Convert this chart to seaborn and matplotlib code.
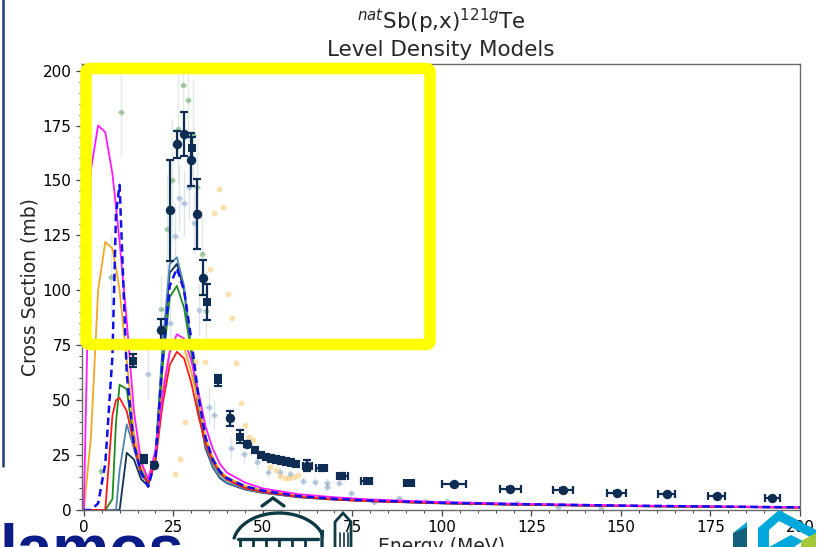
import matplotlib
matplotlib.use("Agg")
import matplotlib.pyplot as plt
import seaborn as sns
import numpy as np
import pandas as pd
from matplotlib.patches import FancyBboxPatch, Polygon
from matplotlib.lines import Line2D

# ---------------- model curves (TALYS level density models) ----------------
E_model = [0, 2, 4, 6, 8, 9, 10, 12, 14, 16, 18, 20, 22, 24, 26, 28, 30, 32, 34,
           36, 38, 40, 45, 50, 60, 70, 80, 100, 120, 150, 200]
ld_magenta = [0, 155, 175, 172, 153, 138, 122, 86, 45, 22, 14, 27, 52, 72, 80, 78, 68,
              54, 38, 28, 21, 17, 12.5, 9.8, 7.2, 5.8, 4.8, 3.6, 2.9, 2.1, 1.3]
ld_orange = [0, 33, 100, 122, 119, 110, 100, 68, 35, 20, 14, 25, 55, 72, 77, 74, 63,
             49, 33, 24, 18, 14.8, 11, 9, 6.5, 5.2, 4.4, 3.4, 2.7, 2.0, 1.2]
ld_blue = [0, 0, 3, 21, 70, 135, 148, 62, 30, 17, 10.6, 23, 68, 102, 110, 100, 78,
           52, 33, 23, 17.5, 14.5, 10.8, 8.8, 6.3, 5.1, 4.3, 3.3, 2.7, 2.0, 1.2]
ld_red = [0, 0, 0, 0, 43, 50, 51, 45, 30, 17, 12.5, 22, 48, 66, 72, 69, 58,
          43, 30, 22, 17, 13.8, 10, 8.2, 6.0, 4.8, 4.0, 3.1, 2.5, 1.8, 1.1]
ld_green = [0, 0, 0, 0, 5, 40, 57, 55, 30, 18, 13, 24, 65, 97, 102, 92, 72,
            49, 31, 22, 16.5, 13.8, 10.2, 8.4, 6.1, 4.9, 4.2, 3.2, 2.6, 1.9, 1.2]
ld_steel = [0, 0, 0, 0, 0, 0, 18, 39, 28, 16, 12, 24, 75, 112, 115, 102, 74,
            47, 29, 20, 15, 12.5, 9.5, 7.9, 5.9, 4.8, 4.1, 3.1, 2.5, 1.9, 1.1]
ld_navy = [0, 0, 0, 0, 0, 0, 0, 26, 23, 14, 11, 23, 72, 108, 112, 100, 73,
           46, 28, 19.5, 14.5, 12.2, 9.3, 7.8, 5.8, 4.7, 4.0, 3.0, 2.4, 1.8, 1.1]

# ---------------- experimental data (main, dark) ----------------
circ_E = [19.6, 21.7, 24.0, 26.1, 28.0, 30.0, 31.7, 33.2, 40.7, 45.6, 62.4,
          103.4, 119.1, 133.7, 148.8, 162.8, 176.7, 192.3]
circ_s = [20.4, 81.8, 136.4, 166.4, 171.0, 159.5, 134.8, 105.8, 41.7, 30.0, 20.2,
          11.7, 9.7, 9.1, 7.9, 7.3, 6.4, 5.3]
circ_dy = [1.5, 5, 23, 6, 10, 12, 16, 8, 3.5, 1.5, 2.5, 0.8, 0.7, 0.7, 0.6, 0.6, 0.5, 0.5]
circ_dx = [0.3, 0.3, 0.3, 0.3, 0.3, 0.3, 0.3, 0.3, 0.5, 0.5, 1.3,
           3.3, 2.9, 2.8, 2.6, 2.4, 2.4, 2.2]

sq_E = [13.7, 16.8, 30.2, 34.4, 37.6, 43.5, 47.7, 49.4, 50.8, 52.2, 53.6, 55.0,
        56.5, 58.0, 59.3, 66.4, 72.2, 79.0, 90.8]
sq_s = [67.9, 23.2, 164.7, 94.7, 59.0, 33.3, 27.3, 25.0, 24.2, 23.5, 23.0, 22.5,
        22.0, 21.5, 20.9, 18.9, 15.5, 13.3, 12.4]
sq_dy = [3, 2, 5, 8, 2.5, 3, 1.5, 1.5, 1.5, 1.5, 1.5, 1.5, 1.5, 1.5, 1.5, 1.2, 1.2, 1.0, 1.0]
sq_dx = [0.3, 0.3, 0.3, 0.3, 0.5, 0.5, 0.5, 0.5, 0.5, 0.5, 0.5, 0.5, 0.5, 0.5, 0.5,
         1.5, 1.5, 1.5, 1.5]

# ---------------- other experimental data (faded) ----------------
g_E = [4.7, 7.7, 10.4, 21.6, 23.1, 24.7, 26.2, 27.7, 29.1, 30.4, 31.7, 33.1, 34.2]
g_s = [17.9, 106, 181, 91.7, 128, 150, 173.5, 193.5, 186.7, 170.5, 147, 116.7, 90.6]
g_dy = [5, 20, 20, 15, 25, 28, 25, 30, 28, 25, 22, 20, 18]

b_E = [17.9, 24.2, 25.6, 26.7, 28.0, 29.3, 30.9, 32.3, 34.9, 36.4, 41.2, 44.7, 48.4,
       51.5, 54.7, 57.7, 61.2, 64.5, 67.9, 67.9, 71.2, 74.6, 81.0, 88.0, 95.2, 101.3,
       107.8, 121.0, 132.4, 144.4]
b_s = [62.1, 84.9, 124.7, 142, 139.7, 147, 130.6, 91.2, 47, 43.2, 28, 25.3, 22,
       17.1, 17.1, 16.2, 13.2, 12.8, 12.5, 10.5, 12.3, 7.6, 3.8, 5.3, 4.1, 4.3,
       3.3, 3.0, 1.5, 0.9]
b_dy = [12, 12, 15, 15, 15, 15, 14, 12, 8, 7, 5, 4, 3, 2.5, 2.5, 2.5, 2, 2, 2, 2,
        2, 1.5, 1, 1, 1, 1, 1, 1, 0.5, 0.5]

o_E = [25.4, 26.8, 28.2, 31.0, 33.9, 35.2, 36.4, 37.7, 38.9, 40.2, 41.5, 42.6, 43.8,
       44.9, 46.1, 47.2, 51.9, 53.7, 54.9, 56.1, 57.4, 58.6, 59.8]
o_s = [16.4, 23.2, 40.2, 67.4, 67.4, 109.8, 135.3, 146.2, 137.7, 98.2, 87.6, 66.7,
       48.5, 38.6, 33.3, 31.8, 19.4, 18.2, 15.5, 14.4, 14.4, 15.2, 16.0]

# ---------------- figure ----------------
sns.set_theme(style="ticks")
plt.rcParams['font.family'] = ['DejaVu Sans']
plt.rcParams['mathtext.fontset'] = 'dejavusans'

W, H = 821, 547
fig = plt.figure(figsize=(W / 100, H / 100), dpi=100)
fig.patch.set_facecolor('white')
ax = fig.add_axes([82 / W, 37 / H, 718 / W, 446 / H])
ax.set_facecolor('white')

main_col = '#0f2d52'

# faded data
ax.errorbar(g_E, g_s, yerr=g_dy, xerr=1.0, fmt='none', ecolor='#5a9a5a',
            elinewidth=1.0, alpha=0.18, zorder=1)
sns.scatterplot(x=g_E, y=g_s, ax=ax, color='#4f9a4f', s=16, alpha=0.45,
                linewidth=0, zorder=1.1, legend=False)
ax.errorbar(b_E, b_s, yerr=b_dy, xerr=1.0, fmt='none', ecolor='#7a9cc0',
            elinewidth=1.0, alpha=0.25, zorder=1)
sns.scatterplot(x=b_E, y=b_s, ax=ax, color='#7d9fc2', s=16, alpha=0.45,
                linewidth=0, zorder=1.1, legend=False)
sns.scatterplot(x=o_E, y=o_s, ax=ax, color='#f6c25a', s=18, alpha=0.5,
                linewidth=0, zorder=1.1, legend=False)

# model curves
models = [
    (ld_navy, '#14304f', '-', 1.3),
    (ld_steel, '#4f86b0', '-', 1.3),
    (ld_green, '#1f8a1f', '-', 1.3),
    (ld_orange, '#f5a623', '-', 1.3),
    (ld_red, '#ff1a1a', '-', 1.3),
    (ld_magenta, '#ff1aff', '-', 1.3),
    (ld_blue, '#1010ee', '--', 1.8),
]
for vals, col, ls, lw in models:
    sns.lineplot(x=E_model, y=vals, ax=ax, color=col, linewidth=lw,
                 estimator=None, sort=False, zorder=2, legend=False)
    ln = ax.lines[-1]
    if ls == '--':
        ln.set_dashes((3, 1.8))

# main data
ax.errorbar(circ_E, circ_s, yerr=circ_dy, xerr=circ_dx, fmt='none', ecolor=main_col,
            elinewidth=1.6, capsize=3.2, capthick=1.6, zorder=3)
ax.errorbar(sq_E, sq_s, yerr=sq_dy, xerr=sq_dx, fmt='none', ecolor=main_col,
            elinewidth=1.6, capsize=3.2, capthick=1.6, zorder=3)
sns.scatterplot(x=circ_E, y=circ_s, ax=ax, color=main_col, marker='o', s=46,
                linewidth=0, zorder=4, legend=False)
sns.scatterplot(x=sq_E, y=sq_s, ax=ax, color=main_col, marker='s', s=34,
                linewidth=0, zorder=4, legend=False)

ax.set_xlim(-0.5, 200)
ax.set_ylim(0, 203)
ax.set_xticks(np.arange(0, 201, 25))
ax.set_yticks(np.arange(0, 201, 25))
ax.set_xticks(np.arange(0, 201, 5), minor=True)
ax.set_yticks(np.arange(0, 201, 5), minor=True)
ax.tick_params(which='major', direction='out', length=4, width=0.9,
               colors='#444444', labelsize=11, labelcolor='black')
ax.tick_params(which='minor', direction='out', length=2.5, width=0.7, colors='#444444')
for sp in ax.spines.values():
    sp.set_color('#6a6a6a')
    sp.set_linewidth(1.0)
    sp.set_visible(True)

ax.set_xlabel('Energy (MeV)', fontsize=13.5, labelpad=1)
ax.set_ylabel('Cross Section (mb)', fontsize=13.5, labelpad=2)
ax.set_title('$^{nat}$Sb(p,x)$^{121g}$Te\nLevel Density Models', fontsize=15.5,
             pad=6, linespacing=1.25)

# ---------------- slide overlays ----------------
def fx(px):
    return px / W

def fy(py):
    return 1 - py / H

# yellow highlight box
box = FancyBboxPatch((fx(86), fy(344.5)), fx(430) - fx(86), fy(68.5) - fy(344.5),
                     boxstyle="round,pad=0,rounding_size=0.006",
                     transform=fig.transFigure, fill=False, edgecolor='#ffff00',
                     linewidth=8.3, zorder=20)
fig.add_artist(box)

# left vertical slide line
fig.add_artist(Line2D([fx(3), fx(3)], [fy(0), fy(466)], transform=fig.transFigure,
                      color='#1d3c70', linewidth=1.8, zorder=20))

# partial "lamos" logo text
fig.text(fx(-1), fy(569), 'lamos', fontsize=46, fontweight='bold',
         family=['Liberation Sans', 'DejaVu Sans'], color='#0b1c86',
         va='baseline', ha='left', zorder=20)

# building logo (approximate)
teal = '#0e3a45'
def pline(pts, lw=2.2, col=teal):
    xs = [fx(p[0]) for p in pts]
    ys = [fy(p[1]) for p in pts]
    fig.add_artist(Line2D(xs, ys, transform=fig.transFigure, color=col,
                          linewidth=lw, zorder=20, solid_joinstyle='miter'))

pline([(262, 506), (273, 498), (284, 506)], lw=2.4)
t = np.linspace(np.pi * 0.93, np.pi * 0.12, 30)
arc_pts = [(279 + 46 * np.cos(a), 545 - 32 * np.sin(a)) for a in t]
pline(arc_pts + [(322, 530), (322, 547)], lw=2.4)
pline([(238, 539), (318, 539)], lw=2.4)
for xx in np.arange(240, 318, 13):
    pline([(xx, 539), (xx, 547)], lw=2.0)
pline([(335, 547), (335, 522), (343, 513), (351, 522), (351, 547)], lw=2.0)
for xx in (340, 344, 348):
    pline([(xx, 533), (xx, 547)], lw=1.2)

# right bottom logo (approximate)
def poly(pts, col):
    fig.add_artist(Polygon([(fx(p[0]), fy(p[1])) for p in pts], closed=True,
                           transform=fig.transFigure, facecolor=col,
                           edgecolor='none', zorder=20))

poly([(758, 528), (779, 510), (816, 530), (816, 540), (779, 521), (769, 530),
      (769, 547), (758, 547)], '#00a8dc')
poly([(769, 547), (791, 535), (803, 541), (794, 547)], '#00a8dc')
poly([(733, 533), (747, 525), (747, 547), (733, 547)], '#12607a')
poly([(733, 533), (747, 522), (747, 527)], '#00a8dc')
poly([(801, 541), (816, 533), (816, 547), (801, 547)], '#a5c83b')

fig.savefig('out.png', dpi=100)
